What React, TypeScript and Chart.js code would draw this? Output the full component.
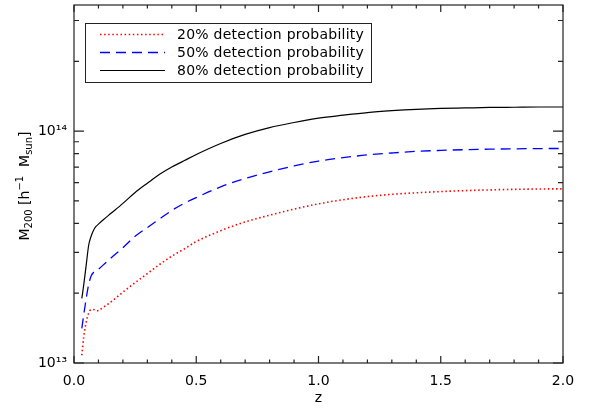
import React, { useEffect, useRef } from 'react';
import { Chart, registerables } from 'chart.js';

Chart.register(...registerables);

// ---- data ----
const zValues = [0.032, 0.04, 0.05, 0.06, 0.07, 0.08, 0.09, 0.10, 0.12, 0.15, 0.20, 0.25, 0.30, 0.35, 0.40, 0.45, 0.50, 0.60, 0.70, 0.80, 0.90, 1.00, 1.10, 1.20, 1.30, 1.40, 1.50, 1.60, 1.70, 1.80, 1.90, 2.00];
const mass20 = [1.08e13, 1.30e13, 1.50e13, 1.64e13, 1.70e13, 1.70e13, 1.68e13, 1.685e13, 1.74e13, 1.83e13, 2.02e13, 2.22e13, 2.43e13, 2.66e13, 2.89e13, 3.10e13, 3.34e13, 3.72e13, 4.06e13, 4.34e13, 4.61e13, 4.86e13, 5.06e13, 5.22e13, 5.34e13, 5.42e13, 5.49e13, 5.54e13, 5.58e13, 5.61e13, 5.63e13, 5.64e13];
const mass50 = [1.41e13, 1.62e13, 1.90e13, 2.18e13, 2.37e13, 2.46e13, 2.50e13, 2.54e13, 2.65e13, 2.83e13, 3.14e13, 3.52e13, 3.84e13, 4.18e13, 4.55e13, 4.88e13, 5.17e13, 5.75e13, 6.25e13, 6.68e13, 7.08e13, 7.43e13, 7.68e13, 7.90e13, 8.05e13, 8.18e13, 8.26e13, 8.32e13, 8.36e13, 8.39e13, 8.41e13, 8.42e13];
const mass80 = [1.90e13, 2.18e13, 2.65e13, 3.22e13, 3.52e13, 3.74e13, 3.88e13, 3.97e13, 4.15e13, 4.41e13, 4.88e13, 5.44e13, 5.96e13, 6.51e13, 7.00e13, 7.45e13, 7.93e13, 8.85e13, 9.68e13, 1.036e14, 1.09e14, 1.138e14, 1.172e14, 1.203e14, 1.225e14, 1.242e14, 1.253e14, 1.259e14, 1.265e14, 1.268e14, 1.271e14, 1.271e14];

const seriesLabels = ['20% detection probability', '50% detection probability', '80% detection probability'];
const xTitle = 'z';
const yTitleParts: [string, 'n' | 'sub' | 'sup'][] = [
  ['M', 'n'], ['200', 'sub'], [' [h', 'n'], ['\u22121', 'sup'], ['  M', 'n'], ['sun', 'sub'], [']', 'n'],
];
const supDigits: Record<string, string> = { '0': '\u2070', '1': '\u00b9', '2': '\u00b2', '3': '\u00b3', '4': '\u2074', '5': '\u2075', '6': '\u2076', '7': '\u2077', '8': '\u2078', '9': '\u2079' };

const xMin = 0, xMax = 2, xStep = 0.1, xLabelStep = 0.5;
const yMin = 1e13, yMax = 3.5e14;

const FONT = '"DejaVu Sans", sans-serif';

const toPoints = (ys: number[]) => zValues.map((z, i) => ({ x: z, y: ys[i] }));

const framePlugin = {
  id: 'idlFrame',
  afterDatasetsDraw(chart: any) {
    const { ctx, chartArea: a, scales } = chart;
    const xs = scales.x, ys = scales.y;
    ctx.save();
    ctx.strokeStyle = '#222';
    ctx.lineWidth = 1.2;
    ctx.setLineDash([]);
    ctx.strokeRect(a.left, a.top, a.right - a.left, a.bottom - a.top);
    // x ticks (bottom and top, inside)
    ctx.beginPath();
    for (const t of xs.ticks) {
      const v = t.value;
      const major = Math.abs(v / xLabelStep - Math.round(v / xLabelStep)) < 1e-6;
      const len = major ? 7 : 3.6;
      const px = xs.getPixelForValue(v);
      ctx.moveTo(px, a.bottom); ctx.lineTo(px, a.bottom - len);
      ctx.moveTo(px, a.top); ctx.lineTo(px, a.top + len);
    }
    // y ticks (left and right, inside)
    for (const t of ys.ticks) {
      const v = t.value;
      const e = Math.floor(Math.log10(v) + 1e-9);
      const mant = v / Math.pow(10, e);
      if (Math.abs(mant - Math.round(mant)) > 1e-6) continue;
      const major = Math.abs(mant - 1) < 1e-6;
      const len = major ? 10 : 5;
      const py = ys.getPixelForValue(v);
      ctx.moveTo(a.left, py); ctx.lineTo(a.left + len, py);
      ctx.moveTo(a.right, py); ctx.lineTo(a.right - len, py);
    }
    ctx.stroke();

    // legend
    const bx = a.left + 11, by = a.top + 18, bw = 286, bh = 59;
    ctx.fillStyle = '#fff';
    ctx.fillRect(bx, by, bw, bh);
    ctx.lineWidth = 1;
    ctx.strokeStyle = '#222';
    ctx.strokeRect(bx + 0.5, by + 0.5, bw, bh);
    ctx.font = `14px ${FONT}`;
    ctx.textBaseline = 'middle';
    ctx.textAlign = 'left';
    chart.data.datasets.forEach((ds: any, i: number) => {
      const ry = by + 11.5 + i * 18;
      ctx.save();
      ctx.strokeStyle = ds.borderColor;
      ctx.lineWidth = ds.borderWidth;
      ctx.setLineDash(ds.borderDash || []);
      ctx.beginPath();
      ctx.moveTo(bx + 15, ry); ctx.lineTo(bx + 80, ry);
      ctx.stroke();
      ctx.restore();
      ctx.fillStyle = '#000';
      (ctx as any).letterSpacing = '0.25px';
      ctx.fillText(ds.label, bx + 92, ry + 1);
      (ctx as any).letterSpacing = '0px';
    });

    // y title with sub/superscripts
    const cx = 24, cy = (a.top + a.bottom) / 2 + 2;
    ctx.translate(cx, cy);
    ctx.rotate(-Math.PI / 2);
    ctx.textBaseline = 'alphabetic';
    const sizeOf = (k: string) => (k === 'n' ? 14 : 10);
    let total = 0;
    for (const [t, k] of yTitleParts) { ctx.font = `${sizeOf(k)}px ${FONT}`; total += ctx.measureText(t).width; }
    let x = -total / 2;
    for (const [t, k] of yTitleParts) {
      ctx.font = `${sizeOf(k)}px ${FONT}`;
      const dy = k === 'sub' ? 3 : k === 'sup' ? -6 : 0;
      ctx.fillText(t, x, 5 + dy);
      x += ctx.measureText(t).width;
    }
    ctx.restore();
  },
};

export default function App() {
  const ref = useRef<HTMLCanvasElement>(null);
  useEffect(() => {
    if (!ref.current) return;
    const chart = new Chart(ref.current, {
      type: 'line',
      data: {
        datasets: [
          { label: seriesLabels[0], data: toPoints(mass20), borderColor: '#ff0000', borderWidth: 1.6, borderDash: [1.5, 2.6], pointRadius: 0, fill: false, cubicInterpolationMode: 'monotone' },
          { label: seriesLabels[1], data: toPoints(mass50), borderColor: '#0000ff', borderWidth: 1.3, borderDash: [10, 6], pointRadius: 0, fill: false, cubicInterpolationMode: 'monotone' },
          { label: seriesLabels[2], data: toPoints(mass80), borderColor: '#000000', borderWidth: 1.2, pointRadius: 0, fill: false, cubicInterpolationMode: 'monotone' },
        ],
      },
      options: {
        responsive: false,
        animation: false,
        devicePixelRatio: 1,
        layout: { padding: { left: 0, right: 26, top: 5, bottom: 0 } },
        plugins: { legend: { display: false }, tooltip: { enabled: false } },
        scales: {
          x: {
            type: 'linear', min: xMin, max: xMax,
            grid: { display: false, drawTicks: false },
            border: { display: false },
            ticks: {
              stepSize: xStep, autoSkip: false, maxRotation: 0, padding: 10,
              color: '#000', font: { family: FONT, size: 14 },
              callback: (v: any) => (Math.abs(v / xLabelStep - Math.round(v / xLabelStep)) < 1e-6 ? Number(v).toFixed(1) : ''),
            },
            title: { display: true, text: xTitle, color: '#000', font: { family: FONT, size: 14 }, padding: { top: 0, bottom: 1 } },
            afterFit: (s: any) => { s.height = 45; s.paddingLeft = 0; s.paddingRight = 0; },
          },
          y: {
            type: 'logarithmic', min: yMin, max: yMax,
            grid: { display: false, drawTicks: false },
            border: { display: false },
            ticks: {
              autoSkip: false, padding: 7, color: '#000', font: { family: FONT, size: 14 },
              callback: (v: any) => {
                const e = Math.log10(Number(v));
                if (Math.abs(e - Math.round(e)) < 1e-9) {
                  return '10' + String(Math.round(e)).split('').map((d) => supDigits[d]).join('');
                }
                return '';
              },
            },
            afterFit: (s: any) => { s.width = 74; s.paddingTop = 0; s.paddingBottom = 0; },
          },
        },
      } as any,
      plugins: [framePlugin],
    });
    return () => chart.destroy();
  }, []);
  return (
    <div style={{ position: 'fixed', left: 0, top: 0, width: 589, height: 408, background: '#fff' }}>
      <canvas ref={ref} width={589} height={408} style={{ display: 'block' }} />
    </div>
  );
}
